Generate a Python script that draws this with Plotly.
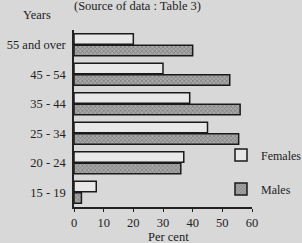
import plotly.graph_objects as go

categories = ["15 - 19", "20 - 24", "25 - 34", "35 - 44", "45 - 54", "55 and over"]
females = [7.5, 37, 45, 39, 30, 20]
males = [2.5, 36, 55.5, 56, 52.5, 40]
x_ticks = [0, 10, 20, 30, 40, 50, 60]

BG = "#d8d8d8"
FONT = "Liberation Serif"
W, H = 302, 243
L, R, T, B = 74, 50, 30, 36
pw, ph = W - L - R, H - T - B

def px(x):
    return (x - L) / pw

def py(y):
    return (H - B - y) / ph

fig = go.Figure()
fig.add_trace(go.Bar(
    y=categories, x=males, orientation="h", name="Males",
    marker=dict(color="#a8a8a8", line=dict(color="#1a1a1a", width=1.5),
                pattern=dict(shape="x", fgcolor="#4a4a4a", size=3, solidity=0.4)),
    legend="legend2",
))
fig.add_trace(go.Bar(
    y=categories, x=females, orientation="h", name="Females",
    marker=dict(color="#e8e8e8", line=dict(color="#1a1a1a", width=1.5)),
    legend="legend",
))

fig.update_layout(
    width=W, height=H,
    margin=dict(l=L, r=R, t=T, b=B, autoexpand=False),
    paper_bgcolor=BG, plot_bgcolor=BG,
    font=dict(family=FONT, size=12.5, color="#222"),
    barmode="group", bargap=0.22, bargroupgap=0.08,
    showlegend=True,
    legend=dict(x=px(221), y=py(155), xanchor="left", yanchor="middle", bgcolor="rgba(0,0,0,0)",
                font=dict(family=FONT, size=12), itemwidth=30),
    legend2=dict(x=px(221), y=py(189), xanchor="left", yanchor="middle", bgcolor="rgba(0,0,0,0)",
                 font=dict(family=FONT, size=12), itemwidth=30),
    xaxis=dict(range=[0, 60], tickvals=x_ticks, showline=True, linecolor="#222", linewidth=1.5,
               ticks="outside", ticklen=3, tickcolor="#222", showgrid=False, zeroline=False,
               tickfont=dict(family=FONT, size=12.5)),
    yaxis=dict(categoryorder="array", categoryarray=categories, showline=True, linecolor="#222",
               linewidth=1.5, showgrid=False, ticks="", tickfont=dict(family=FONT, size=12.5),
               ticklabelstandoff=4),
    annotations=[
        dict(text="(Source of data : Table 3)", x=px(137), y=py(6), xref="paper", yref="paper",
             xanchor="center", yanchor="middle", showarrow=False, font=dict(family=FONT, size=12.5)),
        dict(text="Years", x=px(37), y=py(15), xref="paper", yref="paper",
             xanchor="center", yanchor="middle", showarrow=False, font=dict(family=FONT, size=12.5)),
        dict(text="Per cent", x=px(168), y=py(237), xref="paper", yref="paper",
             xanchor="center", yanchor="middle", showarrow=False, font=dict(family=FONT, size=12.5)),
    ],
)
fig.write_html("out.html", config={"displayModeBar": False},
               post_script="document.body.style.margin='0';document.body.style.background='%s';" % BG)
